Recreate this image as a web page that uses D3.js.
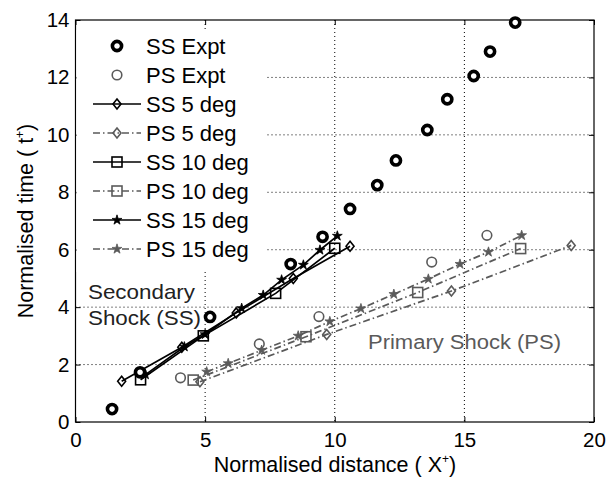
<!DOCTYPE html>
<html><head><meta charset="utf-8">
<script src="https://cdn.jsdelivr.net/npm/d3@7"></script>
<style>
body{margin:0;background:#fff;}
text{font-family:Arial,"Liberation Sans",Helvetica,sans-serif;}
</style></head>
<body><svg id="c" width="616" height="479"></svg>
<script>
// ---- data ----
const xTicks = [0,5,10,15,20];
const yTicks = [0,2,4,6,8,10,12,14];
const ssExpt = [[1.41,0.45],[2.49,1.73],[5.19,3.66],[8.3,5.5],[9.53,6.45],[10.59,7.42],[11.64,8.25],[12.36,9.11],[13.57,10.17],[14.34,11.24],[15.36,12.05],[15.99,12.9],[16.96,13.91]];
const psExpt = [[4.05,1.54],[7.09,2.72],[9.39,3.67],[13.74,5.57],[15.87,6.5]];
const ss5  = [[1.78,1.42],[4.1,2.6],[6.2,3.8],[8.4,5.0],[10.59,6.12]];
const ps5  = [[4.8,1.4],[9.69,3.05],[14.5,4.56],[19.12,6.15]];
const ss10 = [[2.51,1.47],[4.93,3.0],[7.72,4.48],[10.0,6.05]];
const ps10 = [[4.54,1.46],[8.89,2.97],[13.2,4.51],[17.17,6.04]];
const ss15 = [[2.7,1.65],[4.2,2.62],[5.0,3.05],[6.41,3.96],[7.24,4.42],[7.95,4.95],[8.79,5.47],[9.43,5.99],[10.1,6.48]];
const ps15 = [[5.06,1.75],[5.89,2.04],[7.18,2.5],[8.59,3.0],[9.81,3.5],[11.01,3.95],[12.28,4.45],[13.61,4.98],[14.83,5.5],[15.93,5.92],[17.21,6.5]];
const legendLabels = ["SS Expt","PS Expt","SS 5 deg","PS 5 deg","SS 10 deg","PS 10 deg","SS 15 deg","PS 15 deg"];

const svg = d3.select("#c");
const L=75.5, R=594, T=20, B=422;
const x = d3.scaleLinear().domain([0,20]).range([L,R]);
const y = d3.scaleLinear().domain([0,14]).range([B,T]);
const GRAY="#5a5a5a";

// grid
const g = svg.append("g");
g.selectAll(".gx").data(xTicks.filter(d=>d>0&&d<20)).enter().append("line")
 .attr("x1",d=>x(d)).attr("x2",d=>x(d)).attr("y1",T).attr("y2",B)
 .attr("stroke","#000").attr("stroke-width",1).attr("stroke-dasharray","1,3");
g.selectAll(".gy").data(yTicks.filter(d=>d>0&&d<14)).enter().append("line")
 .attr("y1",d=>y(d)).attr("y2",d=>y(d)).attr("x1",L).attr("x2",R)
 .attr("stroke","#000").attr("stroke-width",1).attr("stroke-dasharray","1,3");

// axes
const fs = 20.5;
const ax = svg.append("g").attr("transform",`translate(0,${B})`)
 .call(d3.axisBottom(x).tickValues(xTicks).tickSizeInner(-5).tickSizeOuter(0).tickPadding(10));
const ay = svg.append("g").attr("transform",`translate(${L},0)`)
 .call(d3.axisLeft(y).tickValues(yTicks).tickSizeInner(-5).tickSizeOuter(0).tickPadding(6));
const axT = svg.append("g").attr("transform",`translate(0,${T})`)
 .call(d3.axisTop(x).tickValues(xTicks).tickSizeInner(-5).tickSizeOuter(0).tickFormat(""));
const ayR = svg.append("g").attr("transform",`translate(${R},0)`)
 .call(d3.axisRight(y).tickValues(yTicks).tickSizeInner(-5).tickSizeOuter(0).tickFormat(""));
[ax,ay,axT,ayR].forEach(a=>{a.select(".domain").remove();a.selectAll("text").attr("font-size",fs).attr("fill","#000").style("font-family","Arial, 'Liberation Sans', sans-serif");a.selectAll("line").attr("stroke","#000");});
svg.append("rect").attr("x",L).attr("y",T).attr("width",R-L).attr("height",B-T).attr("fill","none").attr("stroke","#000").attr("stroke-width",1.2);

// symbols
const diamondPath = (s)=>`M0,${-s*1.25}L${s},0L0,${s*1.25}L${-s},0Z`;
function drawMarker(sel, type, color){
  if(type==="ssE"){sel.append("circle").attr("r",4.6).attr("fill","#fff").attr("stroke","#000").attr("stroke-width",3.6);}
  else if(type==="psE"){sel.append("circle").attr("r",4.8).attr("fill","none").attr("stroke",GRAY).attr("stroke-width",1.6);}
  else if(type==="dia"){sel.append("path").attr("d",diamondPath(4)).attr("fill","none").attr("stroke",color).attr("stroke-width",1.6);}
  else if(type==="sq"){sel.append("rect").attr("x",-5).attr("y",-5).attr("width",10).attr("height",10).attr("fill","none").attr("stroke",color).attr("stroke-width",1.6);}
  else if(type==="star"){sel.append("path").attr("d",d3.symbol(d3.symbolStar,30)()).attr("fill",color).attr("stroke",color).attr("stroke-width",0.8);}
}
const line = d3.line().x(d=>x(d[0])).y(d=>y(d[1]));
const series = [
 {data:ss5, col:"#000", dash:null, m:"dia"},
 {data:ss10, col:"#000", dash:null, m:"sq"},
 {data:ss15, col:"#000", dash:null, m:"star"},
 {data:ps5, col:GRAY, dash:"7,3,1.5,3", m:"dia"},
 {data:ps10, col:GRAY, dash:"7,3,1.5,3", m:"sq"},
 {data:ps15, col:GRAY, dash:"7,3,1.5,3", m:"star"}
];
series.forEach(s=>{
  svg.append("path").datum(s.data).attr("d",line).attr("fill","none").attr("stroke",s.col).attr("stroke-width",1.7).attr("stroke-dasharray",s.dash);
  s.data.forEach(d=>{drawMarker(svg.append("g").attr("transform",`translate(${x(d[0])},${y(d[1])})`), s.m, s.col);});
});
psExpt.forEach(d=>drawMarker(svg.append("g").attr("transform",`translate(${x(d[0])},${y(d[1])})`),"psE"));
ssExpt.forEach(d=>drawMarker(svg.append("g").attr("transform",`translate(${x(d[0])},${y(d[1])})`),"ssE"));

// legend
const lg = svg.append("g");
lg.append("rect").attr("x",L+1).attr("y",T+10).attr("width",190).attr("height",242).attr("fill","#fff");
const legSpec = [
 {m:"ssE",col:"#000",line:false},{m:"psE",col:GRAY,line:false},
 {m:"dia",col:"#000",line:true,dash:null},{m:"dia",col:GRAY,line:true,dash:"7,3,1.5,3"},
 {m:"sq",col:"#000",line:true,dash:null},{m:"sq",col:GRAY,line:true,dash:"7,3,1.5,3"},
 {m:"star",col:"#000",line:true,dash:null},{m:"star",col:GRAY,line:true,dash:"7,3,1.5,3"}
];
legendLabels.forEach((lab,i)=>{
  const yy = 46 + i*29;
  const sp = legSpec[i];
  if(sp.line) lg.append("line").attr("x1",93).attr("x2",141).attr("y1",yy).attr("y2",yy).attr("stroke",sp.col).attr("stroke-width",1.7).attr("stroke-dasharray",sp.dash);
  drawMarker(lg.append("g").attr("transform",`translate(117,${yy})`), sp.m, sp.col);
  lg.append("text").attr("x",146).attr("y",yy+7.5).attr("font-size",22).attr("fill","#000").text(lab);
});

// annotations
svg.append("text").attr("x",88).attr("y",299).attr("font-size",21).attr("fill","#222").attr("textLength",107).attr("lengthAdjust","spacingAndGlyphs").text("Secondary");
svg.append("text").attr("x",88).attr("y",325).attr("font-size",21).attr("fill","#222").attr("textLength",113).attr("lengthAdjust","spacingAndGlyphs").text("Shock (SS)");
svg.append("text").attr("x",368).attr("y",349).attr("font-size",20).attr("fill",GRAY).attr("textLength",193).attr("lengthAdjust","spacingAndGlyphs").text("Primary Shock (PS)");

// axis labels
const xl = svg.append("text").attr("x",335).attr("y",472).attr("text-anchor","middle").attr("font-size",21.5).attr("fill","#000");
xl.append("tspan").text("Normalised distance ( X");
xl.append("tspan").attr("font-size",12).attr("dy",-9).text("+");
xl.append("tspan").attr("dy",9).text(")");
const yl = svg.append("text").attr("transform","translate(33,221) rotate(-90)").attr("text-anchor","middle").attr("font-size",21.5).attr("fill","#000");
yl.append("tspan").text("Normalised time ( t");
yl.append("tspan").attr("font-size",12).attr("dy",-9).text("+");
yl.append("tspan").attr("dy",9).text(")");
</script></body></html>
